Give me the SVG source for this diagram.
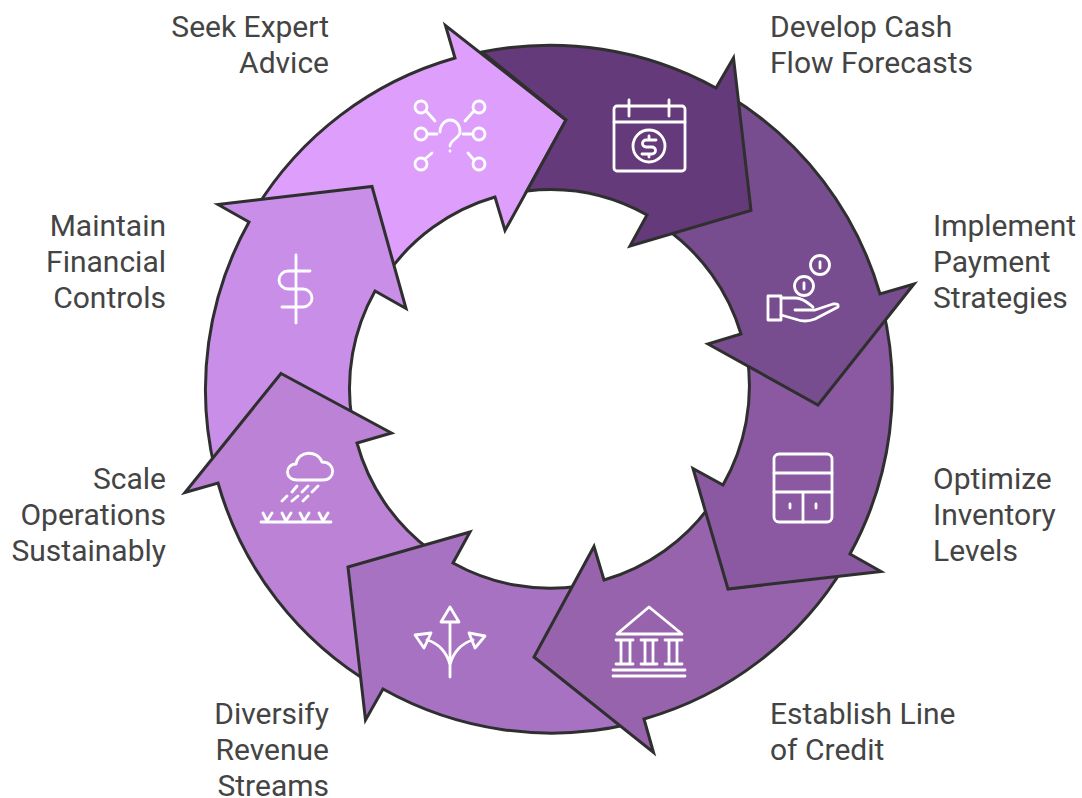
<svg xmlns="http://www.w3.org/2000/svg" width="1082" height="798" viewBox="0 0 1082 798">
<style>
.a{stroke:#2f2f2f;stroke-width:3;stroke-linejoin:miter}
.i{fill:none;stroke:#fff;stroke-width:2.8;stroke-linecap:round;stroke-linejoin:round}
.t{font-family:Roboto,"Liberation Sans",sans-serif;font-size:30px;fill:#444}
.r{text-anchor:end}
</style>
<rect width="1082" height="798" fill="#fff"/>
<g id="connectors"></g>
<g id="seek">
<path class="a" fill="#dd9ffb" d="M255,210 A344,344 0 0 1 455,58 L445.500,25.500 L566,120 L505,230.500 L495,197 A199,199 0 0 0 385,277 L330,250 Z"/>
<g class="i"><circle cx="421" cy="107" r="6"/><circle cx="479" cy="107" r="6"/><circle cx="421" cy="134" r="6"/><circle cx="479" cy="134" r="6"/><circle cx="421" cy="164" r="6"/><circle cx="479" cy="164" r="6"/>
<path d="M427,112 L435,121 M473,112 L465,121 M428,134 H437 M463,134 H472 M432,153 L425,159 M468,153 L474,160 M440,132 C440,125 445,120 450,120 C456,120 460,125 460,132 C460,138 450,140 450,146 M450,151 V151.200"/></g>
<text class="t r" x="329" y="37">Seek Expert</text><text class="t r" x="329" y="73">Advice</text>
</g>
<g id="maintain">
<path class="a" fill="#c98fe8" d="M218,204.500 L372,186.500 L406,308.500 L375,291 A199,199 0 0 0 352,420 L290,440 L215,470 A344,344 0 0 1 249,222 Z"/>
<g class="i"><path d="M296,255 V323 M310,271 H288 A9,9 0 0 0 288,289 H303 A9,9 0 0 1 303,307 H282"/></g>
<text class="t r" x="166" y="236">Maintain</text><text class="t r" x="166" y="272">Financial</text><text class="t r" x="166" y="308">Controls</text>
</g>
<g id="scale">
<path class="a" fill="#bb82d6" d="M281,373.500 L391.500,433 L357,443 A199,199 0 0 0 430,550 L400,620 L375,686 A344,344 0 0 1 218,483 L185,492.500 Z"/>
<g class="i"><path d="M297,480 H323 C336,480 336,462 322,462 C318,450 298,450 296,464 C285,464 284,480 297,480 Z M292,492 L297,486 M302,492 L308,486 M312,492 L318,486 M282,501 L287,496 M292,501 L298,496 M303,501 L308,496 M261,522 H331 M263,513 L267,521 L272,513 M282,513 L286,521 L291,513 M300,513 L304,521 L309,513 M319,513 L323,521 L328,513"/></g>
<text class="t r" x="166" y="489">Scale</text><text class="t r" x="166" y="525">Operations</text><text class="t r" x="166" y="561">Sustainably</text>
</g>
<g id="diversify">
<path class="a" fill="#a872c3" d="M348,567 L470,532 L453,563 A199,199 0 0 0 580,586 L610,660 L630,724 A344,344 0 0 1 383,689 L365.500,720 Z"/>
<g class="i"><path d="M450,677 V622 M450,607 L459,622 H441 Z M415,635 L431,633 L424,648 Z M485,636 L469,633 L475,648 Z M450,665 C447,652 438,643 427,640 M450,665 C453,652 462,643 473,640"/></g>
<text class="t r" x="329" y="724">Diversify</text><text class="t r" x="329" y="760">Revenue</text><text class="t r" x="329" y="796">Streams</text>
</g>
<g id="establish">
<path class="a" fill="#9863ad" d="M534,657 L594,546.500 L604,580 A199,199 0 0 0 712,503 L780,540 L845,565 A344,344 0 0 1 644,719 L653.500,752.500 Z"/>
<g class="i"><path d="M649,607 L682,634 H617 Z M616,640 H633 M621,640 V664 M630,640 V664 M616,664 H633 M641,640 H657 M645,640 V664 M653,640 V664 M641,664 H657 M665,640 H682 M669,640 V664 M677,640 V664 M665,664 H682 M613,670 H685 M613,676 H685"/></g>
<text class="t" x="770" y="724">Establish Line</text><text class="t" x="770" y="760">of Credit</text>
</g>
<g id="optimize">
<path class="a" fill="#8a59a1" d="M693,468.500 L723,485 A199,199 0 0 0 747,355 L810,350 L882,305 A344,344 0 0 1 850,554 L881,571.500 L728,589 Z"/>
<g class="i"><rect x="774" y="454" width="58" height="68" rx="5"/><path d="M774,473 H832 M774,492 H832 M803,492 V522 M790,504 V508 M816,504 V508"/></g>
<text class="t" x="933" y="489">Optimize</text><text class="t" x="933" y="525">Inventory</text><text class="t" x="933" y="561">Levels</text>
</g>
<g id="implement">
<path class="a" fill="#784d8f" d="M708,344 L741,334 A199,199 0 0 0 665,228 L690,170 L729,96 A344,344 0 0 1 880,294 L914,284 L818,405 Z"/>
<g class="i"><circle cx="820" cy="265" r="9.500"/><path d="M820,262 V268 M804,283 V289"/><circle cx="804" cy="286" r="9.500"/><rect x="768" y="296" width="13" height="24"/><path d="M781,298 H796 C803,298 808,303 813,307 M795,310 H815 L833,304 Q839,303 838,307 L815,319 Q805,323 795,319 L781,315"/></g>
<text class="t" x="933" y="236">Implement</text><text class="t" x="933" y="272">Payment</text><text class="t" x="933" y="308">Strategies</text>
</g>
<g id="develop">
<path class="a" fill="#653a7a" d="M482,52 A344,344 0 0 1 716,88 L733.500,58 L751,210.500 L630,246 L647,215 A199,199 0 0 0 527,191 L566,120 Z"/>
<g class="i"><rect x="614" y="106" width="71" height="65" rx="3"/><path d="M614,122 H685 M629,100 V116 M669,100 V116"/><circle cx="649" cy="146" r="16"/><path d="M656,140 H646 A3.500,3.500 0 0 0 646,147 H652 A3.500,3.500 0 0 1 652,154 H642 M649,136 V140 M649,154 V157"/></g>
<text class="t" x="770" y="37">Develop Cash</text><text class="t" x="770" y="73">Flow Forecasts</text>
</g>
</svg>
